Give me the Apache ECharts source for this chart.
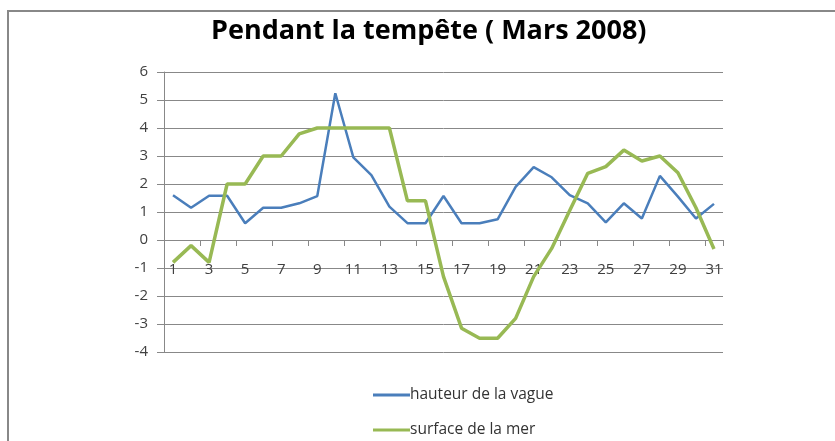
<!DOCTYPE html>
<html>
<head>
<meta charset="utf-8">
<script src="https://cdn.jsdelivr.net/npm/echarts@6/dist/echarts.min.js"></script>
<style>
  html, body { margin: 0; padding: 0; background: #fff; }
  #chart { width: 835px; height: 441px; }
</style>
</head>
<body>
<div id="chart"></div>
<script>
  // jours du mois de mars 2008
  const days = Array.from({ length: 31 }, (_, i) => String(i + 1))
  const hauteurVague = [1.6, 1.15, 1.58, 1.58, 0.6, 1.15, 1.15, 1.31, 1.57, 5.24, 2.95, 2.32, 1.19, 0.6, 0.6, 1.57,
    0.6, 0.6, 0.74, 1.9, 2.6, 2.24, 1.6, 1.31, 0.63, 1.31, 0.77, 2.29, 1.55, 0.77, 1.29]
  const surfaceMer = [-0.8, -0.2, -0.8, 2.0, 2.0, 3.0, 3.0, 3.79, 4.0, 4.0, 4.0, 4.0, 4.0, 1.4, 1.4, -1.31,
    -3.15, -3.51, -3.51, -2.8, -1.31, -0.3, 1.05, 2.38, 2.62, 3.21, 2.82, 3.0, 2.4, 1.15, -0.32]

  const chart = echarts.init(document.getElementById('chart'))
  const labelFont = { color: '#404040', fontSize: 15, fontFamily: 'Open Sans' }

  chart.setOption({
    animation: false,
    backgroundColor: '#fff',
    title: {
      text: 'Pendant la tempête ( Mars 2008)',
      left: 206,
      top: 13,
      textStyle: { color: '#000', fontSize: 27, fontWeight: 'bold', fontFamily: 'Open Sans' },
    },
    graphic: [
      { type: 'polyline', shape: { points: [[8, 441], [8, 11], [835, 11]] }, style: { stroke: '#888', lineWidth: 2, fill: null } },
    ],
    legend: {
      orient: 'vertical',
      left: 373,
      top: 386,
      padding: 0,
      itemWidth: 37,
      itemHeight: 3,
      itemGap: 17,
      icon: 'rect',
      textStyle: { color: '#333', fontSize: 15.5, lineHeight: 18, fontFamily: 'Open Sans', padding: [0, 0, 0, -5] },
    },
    grid: { left: 164, right: 112, top: 72, bottom: 89, containLabel: false },
    xAxis: {
      type: 'category',
      data: days,
      boundaryGap: true,
      offset: -112,
      axisLine: { onZero: false, lineStyle: { color: '#888', width: 1 } },
      axisTick: { show: true, length: 6, lineStyle: { color: '#888' } },
      axisLabel: { interval: 1, margin: 22, ...labelFont },
      splitLine: { show: false },
    },
    yAxis: {
      type: 'value',
      min: -4,
      max: 6,
      interval: 1,
      axisLine: { show: true, lineStyle: { color: '#888' } },
      axisTick: { show: true, length: 7, lineStyle: { color: '#888' } },
      axisLabel: { margin: 16, ...labelFont },
      splitLine: { show: true, lineStyle: { color: '#888', width: 1 } },
    },
    series: [
      {
        name: 'hauteur de la vague', type: 'line', data: hauteurVague, symbol: 'none',
        color: '#4a7ebb', lineStyle: { width: 2.5 },
      },
      {
        name: 'surface de la mer', type: 'line', data: surfaceMer, symbol: 'none',
        color: '#98b954', lineStyle: { width: 3.5 },
      },
    ],
  })
</script>
</body>
</html>
